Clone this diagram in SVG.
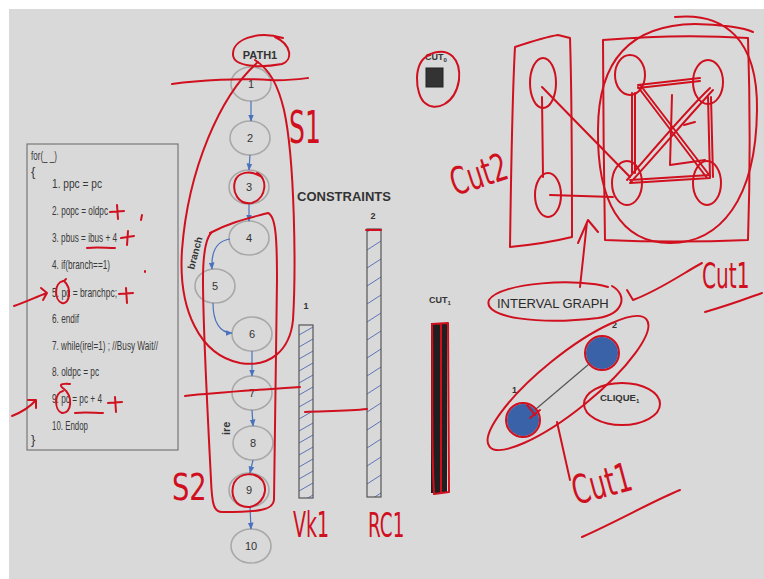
<svg xmlns="http://www.w3.org/2000/svg" width="764" height="579" viewBox="0 0 764 579">
<defs>
<style>
.code{font-family:"Liberation Sans",sans-serif;font-size:13px;fill:#3a3a3a}
.node{fill:none;stroke:#a8a8a8;stroke-width:1.6}
.nl{font-family:"Liberation Sans",sans-serif;font-size:11px;fill:#333;text-anchor:middle}
.edge{fill:none;stroke:#4a72bd;stroke-width:1.2}
.lbl{font-family:"Liberation Sans",sans-serif;font-weight:bold;fill:#333}
.red{fill:none;stroke:#d0101e;stroke-width:2;stroke-linecap:round;stroke-linejoin:round}
.hw{font-family:"DejaVu Sans","Liberation Sans",sans-serif;fill:#d0101e}
.bar{stroke:#555;stroke-width:1.2}
</style>
<marker id="ah" viewBox="0 0 10 10" refX="9" refY="5" markerWidth="6" markerHeight="6" orient="auto"><path d="M0,1 L10,5 L0,9 Z" fill="#4a72bd"/></marker>
<pattern id="h1" patternUnits="userSpaceOnUse" x="299" y="0" width="14" height="12"><line x1="0" y1="11" x2="14" y2="3" stroke="#5b74b8" stroke-width="1"/></pattern>
<pattern id="h2" patternUnits="userSpaceOnUse" x="367" y="0" width="14" height="18"><line x1="0" y1="16" x2="14" y2="7" stroke="#5b74b8" stroke-width="1"/></pattern>
</defs>
<rect width="764" height="579" fill="#ffffff"/>
<rect x="9" y="9" width="755" height="570" fill="#d9d9d9"/>

<g id="code">
<rect x="27" y="144" width="151" height="306" fill="none" stroke="#777" stroke-width="1.2"/>
<text class="code" x="31" y="160" textLength="26" lengthAdjust="spacingAndGlyphs">for(_ _)</text>
<text class="code" x="31" y="176">{</text>
<text class="code" x="52" y="188" textLength="50" lengthAdjust="spacingAndGlyphs">1. ppc = pc</text>
<text class="code" x="52" y="215" textLength="56" lengthAdjust="spacingAndGlyphs">2. popc = oldpc</text>
<text class="code" x="52" y="242" textLength="65" lengthAdjust="spacingAndGlyphs">3. pbus = ibus + 4</text>
<text class="code" x="52" y="269" textLength="58" lengthAdjust="spacingAndGlyphs">4. if(branch==1)</text>
<text class="code" x="52" y="297" textLength="65" lengthAdjust="spacingAndGlyphs">5. pc = branchpc;</text>
<text class="code" x="52" y="323" textLength="27" lengthAdjust="spacingAndGlyphs">6. endif</text>
<text class="code" x="52" y="350" textLength="106" lengthAdjust="spacingAndGlyphs">7. while(irel=1) ; //Busy Wait//</text>
<text class="code" x="52" y="376" textLength="47" lengthAdjust="spacingAndGlyphs">8. oldpc = pc</text>
<text class="code" x="52" y="403" textLength="50" lengthAdjust="spacingAndGlyphs">9. pc = pc + 4</text>
<text class="code" x="52" y="430" textLength="36" lengthAdjust="spacingAndGlyphs">10. Endop</text>
<text class="code" x="31" y="444">}</text>
</g>

<g id="path1-label"><text class="lbl" x="260" y="59" font-size="11" text-anchor="middle">PATH1</text></g>
<g id="n1"><ellipse class="node" cx="251" cy="84" rx="20" ry="17"/><text class="nl" x="251" y="88">1</text></g>
<g id="n2"><ellipse class="node" cx="250" cy="138" rx="20" ry="17"/><text class="nl" x="250" y="142">2</text></g>
<g id="n3"><ellipse class="node" cx="249" cy="187" rx="20" ry="17"/><text class="nl" x="249" y="191">3</text></g>
<g id="n4"><ellipse class="node" cx="249" cy="238" rx="20" ry="17"/><text class="nl" x="249" y="242">4</text></g>
<g id="n5"><ellipse class="node" cx="215" cy="286" rx="20" ry="17"/><text class="nl" x="215" y="290">5</text></g>
<g id="n6"><ellipse class="node" cx="252" cy="334" rx="20" ry="17"/><text class="nl" x="252" y="338">6</text></g>
<g id="n7"><ellipse class="node" cx="252" cy="393" rx="20" ry="17"/><text class="nl" x="252" y="397">7</text></g>
<g id="n8"><ellipse class="node" cx="253" cy="443" rx="20" ry="17"/><text class="nl" x="253" y="447">8</text></g>
<g id="n9"><ellipse class="node" cx="249" cy="490" rx="20" ry="17"/><text class="nl" x="249" y="494">9</text></g>
<g id="n10"><ellipse class="node" cx="251" cy="546" rx="20" ry="17"/><text class="nl" x="251" y="550">10</text></g>
<g id="branch-label"><text class="lbl" font-size="10" transform="translate(194,270) rotate(-75)">branch</text></g>
<g id="ire-label"><text class="lbl" font-size="11" transform="translate(230,435) rotate(-90)">ire</text></g>

<g id="connectors">
<path class="edge" marker-end="url(#ah)" d="M251 101 L251 121"/>
<path class="edge" marker-end="url(#ah)" d="M250 155 L249 170"/>
<path class="edge" marker-end="url(#ah)" d="M249 204 L249 221"/>
<path class="edge" marker-end="url(#ah)" d="M230 239 C216 241 211 252 212 269"/>
<path class="edge" marker-end="url(#ah)" d="M213 303 C213 322 220 333 232 333"/>
<path class="edge" marker-end="url(#ah)" d="M252 351 L252 376"/>
<path class="edge" marker-end="url(#ah)" d="M252 410 L253 426"/>
<path class="edge" marker-end="url(#ah)" d="M253 460 L250 473"/>
<path class="edge" marker-end="url(#ah)" d="M250 507 L251 529"/>
<path d="M523 420 L602 353" stroke="#555" stroke-width="1.2" fill="none"/>
</g>

<g id="constraints">
<text class="lbl" x="297" y="201" font-size="13">CONSTRAINTS</text>
<text class="lbl" x="306" y="309" font-size="9" text-anchor="middle">1</text>
<text class="lbl" x="373" y="219" font-size="9" text-anchor="middle">2</text>
</g>
<g id="bar1"><rect class="bar" x="299" y="325" width="14" height="173" fill="url(#h1)"/></g>
<g id="bar2"><rect class="bar" x="367" y="229" width="14" height="268" fill="url(#h2)"/></g>
<g id="cut1-bar"><text class="lbl" x="440" y="303" font-size="9" text-anchor="middle">CUT<tspan font-size="6" dy="2">1</tspan></text><rect x="431" y="323" width="16" height="170" fill="#1f1f1f"/></g>
<g id="cut0"><text class="lbl" x="425" y="60" font-size="9">CUT<tspan font-size="6" dy="2">0</tspan></text><rect x="426" y="68" width="17" height="19" fill="#333" stroke="#222"/></g>

<g id="interval-graph">
<text x="497" y="308" font-family="Liberation Sans,sans-serif" font-size="13" fill="#2a2a2a">INTERVAL GRAPH</text>
<text class="lbl" x="612" y="328" font-size="9">2</text>
<text class="lbl" x="512" y="393" font-size="9">1</text>
<circle cx="602" cy="353" r="16" fill="#3a62a8"/>
<circle cx="523" cy="420" r="16" fill="#3a62a8"/>
<text class="lbl" x="600" y="401" font-size="9.5">CLIQUE<tspan font-size="6" dy="2">1</tspan></text>
</g>

<g id="annotations">
<path class="red" d="M283 38 C256 30 232 40 233 55 C234 67 260 68 282 64 C293 60 292 45 275 37"/>
<path class="red" d="M172 84 C200 80 240 78 270 80 C285 81 300 79 308 78"/>
<path class="red" d="M258 62 C220 95 188 170 182 250 C178 310 200 355 240 363 C270 368 290 350 293 320 C296 270 295 160 284 110 C278 85 270 70 255 60"/>
<path class="red" d="M210 233 C230 222 250 218 268 213 C276 216 277 240 277 280 L274 500 C273 510 260 512 222 512 C214 512 212 505 211 480 C208 420 203 330 203 280 C203 255 205 238 212 232"/>
<path class="red" d="M257 173 C268 178 267 198 252 203 C238 205 232 192 235 181 C238 172 250 170 260 176"/>
<path class="red" d="M255 475 C270 480 268 503 250 507 C234 508 230 494 234 483 C240 472 255 472 262 480"/>
<path class="red" d="M185 396 C220 392 260 390 300 387"/>
<path class="red" d="M305 412 C330 411 350 411 367 409"/>
<path class="red" d="M366 230 L381 230" stroke-width="2.5"/>
<path class="red" d="M432 324 L448 323 L449 492 L434 494 C431 440 433 380 432 324 M441 324 L441 492"/>
<path class="red" d="M430 55 C412 60 415 95 425 103 C435 112 455 105 459 80 C461 60 450 45 428 55"/>
<text class="hw" font-size="44" transform="translate(289,143) scale(0.57,1)">S1</text>
<text class="hw" font-size="38" transform="translate(172,500) scale(0.72,1)">S2</text>
<text class="hw" font-size="36" transform="translate(293,537) scale(0.53,1)">Vk1</text>
<text class="hw" font-size="34" transform="translate(368,537) scale(0.54,1)">RC1</text>
<text class="hw" font-size="38" transform="translate(455,196) rotate(-18) scale(0.65,1)">Cut2</text>
<text class="hw" font-size="36" transform="translate(702,288) scale(0.56,1)">Cut1</text>
<text class="hw" font-size="40" transform="translate(576,505) rotate(-15) scale(0.64,1)">Cut1</text>
<path class="red" d="M110 212 L124 211 M117 205 L118 219"/>
<path class="red" d="M142 215 L141 220"/>
<path class="red" d="M87 248 C97 247 106 248 115 248"/>
<path class="red" d="M121 238 L134 236 M128 231 L127 245"/>
<path class="red" d="M145 271 L145 272"/>
<path class="red" d="M63 281 C54 283 54 300 62 303 C70 305 72 288 64 281 L66 279"/>
<path class="red" d="M119 294 L133 293 M126 288 L127 303"/>
<path class="red" d="M14 306 C28 301 38 296 47 293 M41 288 L47 293 L43 300"/>
<path class="red" d="M63 391 C54 393 54 410 62 413 C72 414 73 396 64 389 C60 386 58 383 70 384"/>
<path class="red" d="M75 413 C85 412 95 413 103 413"/>
<path class="red" d="M108 403 L122 402 M115 397 L116 412"/>
<path class="red" d="M12 416 C22 412 30 407 36 400 M28 400 L36 400 L36 408"/>
<path class="red" d="M515 47 C530 42 545 37 558 35 L570 38 C572 100 572 180 572 237 C552 242 530 245 510 247 C511 180 512 100 515 47"/>
<ellipse class="red" cx="543" cy="83" rx="13" ry="25"/>
<ellipse class="red" cx="548" cy="195" rx="13" ry="22"/>
<path class="red" d="M542 97 L543 177 M542 87 L630 177 M550 195 L613 197"/>
<path class="red" d="M603 40 C650 36 700 35 748 38 C750 100 750 180 748 240 C700 242 650 242 605 240 C604 180 603 100 603 40"/>
<path class="red" d="M675 17 C725 12 758 40 757 110 C756 200 720 243 670 243 C620 243 597 200 598 130 C598 60 630 25 695 24 C720 24 745 28 753 32"/>
<ellipse class="red" cx="630" cy="75" rx="15" ry="20"/>
<ellipse class="red" cx="708" cy="82" rx="15" ry="22"/>
<ellipse class="red" cx="627" cy="183" rx="15" ry="22"/>
<ellipse class="red" cx="707" cy="183" rx="14" ry="22"/>
<path class="red" d="M638 85 L700 78 M638 88 L700 81 M632 93 L632 173 M635 93 L635 173 M708 97 L710 177 M711 97 L713 177 M630 183 L710 178 M630 180 L710 175 M638 87 L707 178 M641 86 L710 176 M630 183 C660 150 690 115 713 90 M627 180 C655 148 685 112 710 88"/>
<path class="red" d="M672 95 L670 165 L705 160 M684 125 L695 122"/>
<path class="red" d="M580 287 L587 222 M578 243 L588 220 L598 232"/>
<path class="red" d="M608 287 C580 278 500 282 489 300 C482 318 540 325 598 318 C624 314 628 295 612 286"/>
<path class="red" d="M627 290 L633 300 C660 290 685 272 702 263"/>
<path class="red" d="M705 312 C730 305 748 298 762 293"/>
<ellipse class="red" cx="568" cy="383" rx="101" ry="27" transform="rotate(-39 568 383)"/>
<ellipse class="red" cx="622" cy="404" rx="38" ry="21"/>
<circle class="red" cx="602" cy="353" r="17"/>
<circle class="red" cx="523" cy="420" r="17"/>
<path class="red" d="M527 405 L535 415 M530 418 L540 410" stroke-width="1.5"/>
<path class="red" d="M557 422 L570 480"/>
<path class="red" d="M582 537 C620 520 655 500 680 490"/>
</g>
</svg>
